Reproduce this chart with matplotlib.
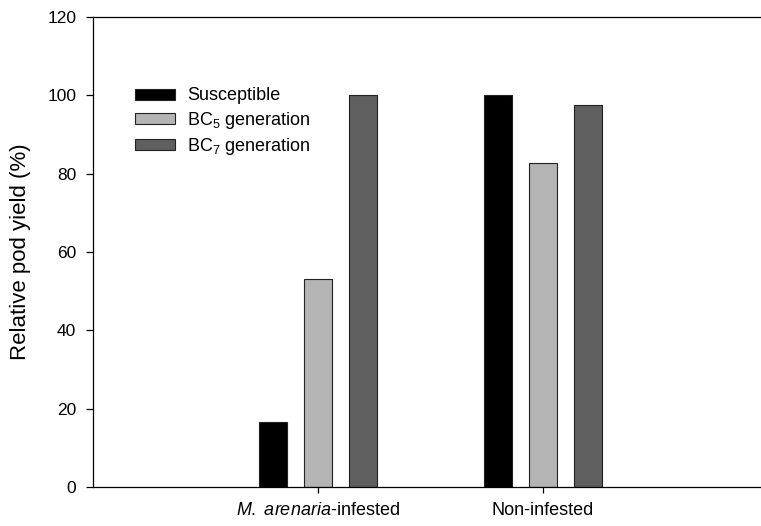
import numpy as np
import matplotlib
matplotlib.use("Agg")
import matplotlib.pyplot as plt

plt.rcParams['font.family'] = ['Liberation Sans', 'DejaVu Sans']
plt.rcParams['mathtext.fontset'] = 'custom'
plt.rcParams['mathtext.rm'] = 'Liberation Sans'
plt.rcParams['mathtext.it'] = 'Liberation Sans:italic'

categories = [r"$\it{M.}$ $\it{arenaria}$-infested", "Non-infested"]
series_names = ["Susceptible", r"BC$_5$ generation", r"BC$_7$ generation"]
susceptible = [16.5, 100.0]
bc5 = [53.0, 82.8]
bc7 = [100.0, 97.6]
colors = ["#000000", "#b4b4b4", "#5f5f5f"]
yticks = [0, 20, 40, 60, 80, 100, 120]

fig = plt.figure(figsize=(7.61, 5.26), dpi=100)
ax = fig.add_axes([0.1222, 0.0741, 0.8778, 0.8936])

x = np.arange(len(categories))
width = 0.124
offset = 0.2
for i, (vals, name, c) in enumerate(zip([susceptible, bc5, bc7], series_names, colors)):
    ax.bar(x + (i - 1) * offset, vals, width, color=c, edgecolor="#222222",
           linewidth=0.8, label=name)

ax.set_xlim(-1.0, 1.97)
ax.set_ylim(0, 120)
ax.set_yticks(yticks)
ax.set_xticks(x)
ax.set_xticklabels(categories, fontsize=13)
ax.tick_params(axis='y', labelsize=12.5, direction='out', length=5, width=0.9, pad=7)
ax.tick_params(axis='x', direction='out', length=4, width=0.9, pad=7)
ax.set_ylabel("Relative pod yield (%)", fontsize=16)
ax.yaxis.set_label_coords(-0.093, 0.5)
ax.spines['right'].set_visible(False)
for s in ['left', 'top', 'bottom']:
    ax.spines[s].set_linewidth(0.9)

ax.legend(loc='upper left', bbox_to_anchor=(0.063, 0.85), frameon=False,
          fontsize=13, handlelength=2.2, handleheight=0.55, labelspacing=0.28,
          handletextpad=0.7, borderaxespad=0, borderpad=0)

fig.savefig("out.png", dpi=100)
